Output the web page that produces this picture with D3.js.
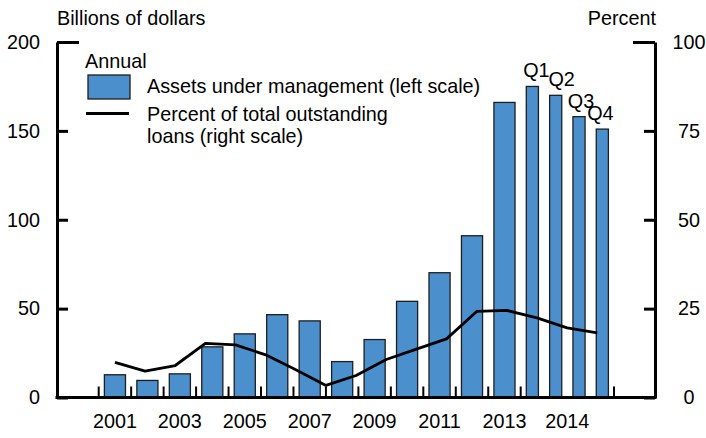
<!DOCTYPE html>
<html>
<head>
<meta charset="utf-8">
<script src="https://cdn.jsdelivr.net/npm/d3@7"></script>
<style>
  body { margin: 0; background: #fff; }
  svg { display: block; }
  text { font-family: "Liberation Sans", Arial, sans-serif; fill: #000; }
</style>
</head>
<body>
<div id="chart"></div>
<script>
// annual bars, then 2014 by quarter
const years = ["2001", "2002", "2003", "2004", "2005", "2006", "2007", "2008", "2009", "2010", "2011", "2012", "2013"];
const annualAssets = [12.8, 9.6, 13.3, 28.5, 35.8, 46.6, 43.1, 20.2, 32.6, 54.1, 70.2, 91, 166];
const quarters = ["Q1", "Q2", "Q3", "Q4"];
const quarterAssets = [175, 170, 158, 151];
// percent of total outstanding loans, one point per bar
const loanShare = [9.9, 7.4, 9.0, 15.2, 14.8, 12.0, 7.8, 3.4, 6.2, 10.7, 13.6, 16.5, 24.2, 24.5, 22.4, 19.6, 18.2];
const yearLabels = ["2001", "2003", "2005", "2007", "2009", "2011", "2013"];
const leftTicks = [0, 50, 100, 150, 200];
const rightTicks = [0, 25, 50, 75, 100];

const W = 706, H = 438;
const fontSize = "19.8px";
const plot = { left: 57, right: 655, top: 42, bottom: 397.5 };
const barFill = "#4b8fcd";

const svg = d3.select("#chart").append("svg")
    .attr("width", W)
    .attr("height", H);

const yLeft = d3.scaleLinear().domain([0, 200]).range([plot.bottom, plot.top]);
const yRight = d3.scaleLinear().domain([0, 100]).range([plot.bottom, plot.top]);

const xYear = d3.scaleBand()
    .domain(years)
    .range([98.7, 520.7])
    .paddingInner(0.35)
    .paddingOuter(0.175);

const xQ = d3.scaleBand()
    .domain(quarters)
    .range([520.7, 614])
    .paddingInner(0.48)
    .paddingOuter(0.24);

const lineKeys = years.concat(quarters.map(q => "2014" + q));
const xLine = d3.scalePoint()
    .domain(lineKeys)
    .range([xYear("2001") + xYear.bandwidth() / 2, xQ("Q4") + 1]);

// bars
svg.append("g").selectAll("rect.annual")
    .data(years)
    .enter().append("rect")
    .attr("x", d => xYear(d))
    .attr("y", (d, i) => yLeft(annualAssets[i]))
    .attr("width", xYear.bandwidth())
    .attr("height", (d, i) => yLeft(0) - yLeft(annualAssets[i]))
    .attr("fill", barFill)
    .attr("stroke", "#1e1e1e")
    .attr("stroke-width", 1.3);

svg.append("g").selectAll("rect.quarter")
    .data(quarters)
    .enter().append("rect")
    .attr("x", d => xQ(d))
    .attr("y", (d, i) => yLeft(quarterAssets[i]))
    .attr("width", xQ.bandwidth())
    .attr("height", (d, i) => yLeft(0) - yLeft(quarterAssets[i]))
    .attr("fill", barFill)
    .attr("stroke", "#1e1e1e")
    .attr("stroke-width", 1.3);

// quarter labels above bars
const qOffset = [4, 6, 2, -2];
svg.append("g").selectAll("text")
    .data(quarters)
    .enter().append("text")
    .attr("x", (d, i) => xQ(d) + xQ.bandwidth() / 2 + qOffset[i])
    .attr("y", (d, i) => yLeft(quarterAssets[i]) - 9)
    .attr("text-anchor", "middle")
    .style("font-size", fontSize)
    .text(d => d);

// line
const line = d3.line()
    .x((d, i) => xLine(lineKeys[i]))
    .y(d => yRight(d));

svg.append("path")
    .datum(loanShare)
    .attr("d", line)
    .attr("fill", "none")
    .attr("stroke", "#000")
    .attr("stroke-width", 2.8)
    .attr("stroke-linejoin", "round");

// left axis
const leftAxis = svg.append("g")
    .attr("transform", `translate(${plot.left},0)`)
    .call(d3.axisLeft(yLeft).tickValues(leftTicks).tickSizeInner(-11).tickSizeOuter(0).tickPadding(17));
leftAxis.select(".domain").attr("stroke-width", 3);
leftAxis.selectAll(".tick line").attr("stroke-width", 3)
    .attr("x2", d => d === 200 ? 22 : 11);
leftAxis.selectAll(".tick text").style("font-size", fontSize).attr("font-family", null);

// right axis
const rightAxis = svg.append("g")
    .attr("transform", `translate(${plot.right},0)`)
    .call(d3.axisRight(yRight).tickValues(rightTicks).tickSizeInner(-11).tickSizeOuter(0).tickPadding(34));
rightAxis.select(".domain").attr("stroke-width", 3);
rightAxis.selectAll(".tick line").attr("stroke-width", 3)
    .attr("x2", d => d === 100 ? -22 : -11);
rightAxis.selectAll(".tick text").style("font-size", fontSize)
    .attr("text-anchor", "middle").attr("font-family", null);

// bottom axis line and boundary ticks
svg.append("line")
    .attr("x1", plot.left - 1.5).attr("x2", plot.right + 1.5)
    .attr("y1", plot.bottom).attr("y2", plot.bottom)
    .attr("stroke", "#000").attr("stroke-width", 3);

const gap = xYear.step() - xYear.bandwidth();
const boundaries = years.map(d => xYear(d) - gap / 2).concat([xQ.range()[0], xQ.range()[1]]);
svg.append("g").selectAll("line")
    .data(boundaries)
    .enter().append("line")
    .attr("x1", d => d).attr("x2", d => d)
    .attr("y1", plot.bottom).attr("y2", plot.bottom - 11)
    .attr("stroke", "#000").attr("stroke-width", 2);

svg.append("g").selectAll("text")
    .data(yearLabels)
    .enter().append("text")
    .attr("x", d => xYear(d) + xYear.bandwidth() / 2)
    .attr("y", 428)
    .attr("text-anchor", "middle")
    .style("font-size", fontSize)
    .text(d => d);

svg.append("text")
    .attr("x", (xQ.range()[0] + xQ.range()[1]) / 2)
    .attr("y", 428)
    .attr("text-anchor", "middle")
    .style("font-size", fontSize)
    .text("2014");

// unit labels
svg.append("text")
    .attr("x", plot.left).attr("y", 25)
    .style("font-size", fontSize)
    .text("Billions of dollars");

svg.append("text")
    .attr("x", plot.right + 1).attr("y", 25)
    .attr("text-anchor", "end")
    .style("font-size", fontSize)
    .text("Percent");

// legend
const legend = svg.append("g").attr("transform", "translate(85,0)");
legend.append("text").attr("x", 0).attr("y", 68)
    .style("font-size", fontSize).text("Annual");
legend.append("rect")
    .attr("x", 3).attr("y", 75).attr("width", 42).attr("height", 24)
    .attr("fill", barFill).attr("stroke", "#1e1e1e").attr("stroke-width", 1.3);
legend.append("text").attr("x", 62).attr("y", 93)
    .style("font-size", fontSize).text("Assets under management (left scale)");
legend.append("line")
    .attr("x1", 1).attr("x2", 44).attr("y1", 113.5).attr("y2", 113.5)
    .attr("stroke", "#000").attr("stroke-width", 2.8);
legend.append("text").attr("x", 62).attr("y", 121)
    .style("font-size", fontSize).text("Percent of total outstanding");
legend.append("text").attr("x", 62).attr("y", 143)
    .style("font-size", fontSize).text("loans (right scale)");
</script>
</body>
</html>
